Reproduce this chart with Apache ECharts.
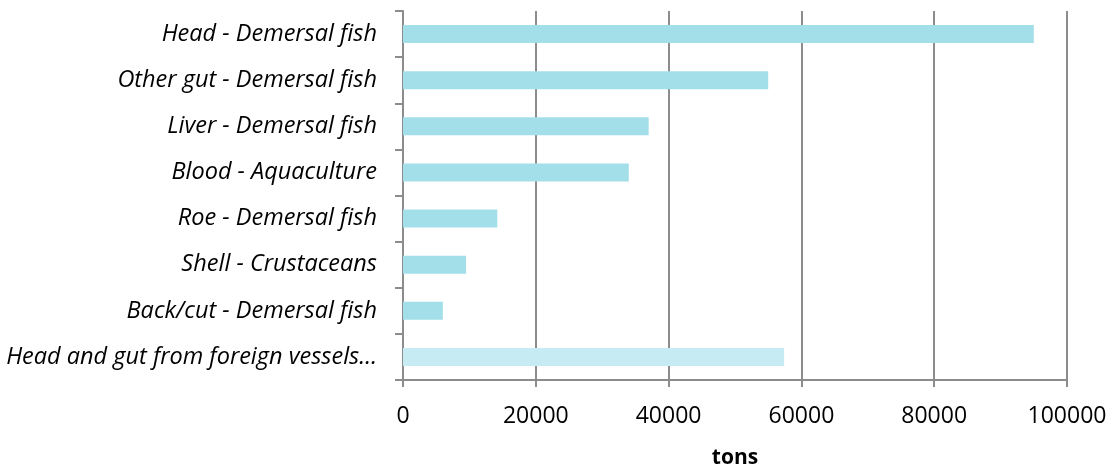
<!DOCTYPE html>
<html>
<head>
<meta charset="utf-8">
<script src="https://cdn.jsdelivr.net/npm/echarts@6/dist/echarts.min.js"></script>
<style>
  html, body { margin: 0; padding: 0; background: #ffffff; }
  #chart { width: 1117px; height: 465px; }
</style>
</head>
<body>
<div id="chart"></div>
<script>
// By-product categories, listed top to bottom
const categories = [
  'Head - Demersal fish',
  'Other gut - Demersal fish',
  'Liver - Demersal fish',
  'Blood - Aquaculture',
  'Roe - Demersal fish',
  'Shell - Crustaceans',
  'Back/cut - Demersal fish',
  'Head and gut from foreign vessels…'
];

// Quantities in tons
const tons = [95000, 55000, 37000, 34000, 14200, 9500, 6000, 57400];

// The foreign-vessel bar is drawn in a lighter shade
const lighterIndex = [7];

const axisTicks = [0, 20000, 40000, 60000, 80000, 100000];

const baseColor = '#a3dfe9';
const lightColor = '#c6ebf2';
const axisGray = '#8c8c8c';
const fontFamily = '"Open Sans", sans-serif';

const chart = echarts.init(document.getElementById('chart'), null, { renderer: 'canvas' });

chart.setOption({
  animation: false,
  grid: {
    left: 403, right: 50, top: 11, bottom: 85,
    containLabel: false,
    outerBoundsMode: 'none'
  },
  xAxis: {
    type: 'value',
    min: axisTicks[0],
    max: axisTicks[axisTicks.length - 1],
    interval: axisTicks[1] - axisTicks[0],
    name: 'tons',
    nameLocation: 'middle',
    nameGap: 68,
    nameTextStyle: { fontFamily: fontFamily, fontWeight: 'bold', fontSize: 21, color: '#000' },
    axisLine: { show: true, lineStyle: { color: axisGray, width: 2 } },
    axisTick: { show: true, length: 7, lineStyle: { color: axisGray, width: 2 } },
    splitLine: { show: true, lineStyle: { color: axisGray, width: 2 } },
    axisLabel: {
      fontFamily: fontFamily, fontSize: 23, color: '#000', margin: 25,
      formatter: v => String(v)
    }
  },
  yAxis: {
    type: 'category',
    inverse: true,
    data: categories,
    axisLine: { show: true, lineStyle: { color: axisGray, width: 2 } },
    axisTick: { show: true, length: 8, lineStyle: { color: axisGray, width: 2 } },
    axisLabel: { fontFamily: fontFamily, fontStyle: 'italic', fontSize: 23.5, color: '#000', margin: 26 }
  },
  series: [{
    type: 'bar',
    barWidth: 18,
    data: tons.map((v, i) => ({
      value: v,
      itemStyle: { color: lighterIndex.includes(i) ? lightColor : baseColor }
    }))
  }]
});
</script>
</body>
</html>
